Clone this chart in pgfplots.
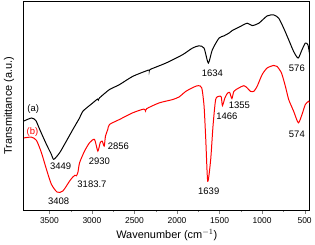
\documentclass[border=0pt]{standalone}
\usepackage{fontspec}
\setmainfont{Liberation Sans}
\usepackage{pgfplots}
\pgfplotsset{compat=1.18}
\begin{document}
\begin{tikzpicture}
\begin{axis}[
  scale only axis, width=287pt, height=210pt,
  x dir=reverse, xmin=440, xmax=3800, ymin=0, ymax=210,
  xtick={500,1000,...,3500}, minor x tick num=1,
  ytick=\empty,
  tick align=outside, xtick pos=bottom,
  major tick length=3.5pt, minor tick length=2pt,
  tick label style={font=\fontsize{8.5}{10}\selectfont},
  /pgf/number format/assume math mode=true,
  /pgf/number format/set thousands separator={},
  xlabel={Wavenumber (cm$^{-1}$)}, ylabel={Transmittance (a.u.)},
  label style={font=\fontsize{11}{13}\selectfont},
  xlabel style={at={(axis description cs:0.5,-0.12)}, anchor=center},
  ylabel style={at={(axis description cs:-0.052,0.5)}, anchor=center},
  axis line style={line width=0.8pt},
]
% (a) black
\addplot[black, line width=1pt, smooth, tension=0.4] coordinates {
(3800,89.5) (3711,92.5) (3660,90) (3614,81) (3535,66) (3477,56) (3449,51)
(3379,57.7) (3301,69.3) (3224,81) (3145,92.7) (3107,99.3) (3000,107) (2935,111.5) (2925,110.5) (2911,112.7)
(2795,121) (2677,126) (2521,134.3) (2340,140.5) (2326,140) (2310,141.5) (2130,147.7) (1936,156) (1819,162.7)
(1741,165) (1682,162.7) (1632,147.7) (1585,161) (1507,172.7) (1448,175) (1390,177.7)
(1351,180.3) (1272,183.7) (1175,187.7) (1117,185.3) (1038,187.7) (941,195) (863,196)
(804,192.7) (746,182.7) (687,171) (629,159.3) (576,152.7) (531,161) (492,167.7) (461,166) (440,156)
};
% (b) red
\addplot[red, line width=1pt, smooth, tension=0.4] coordinates {
(3800,72.5) (3711,73.3) (3652,70) (3594,57.7) (3535,41) (3477,26) (3408,18)
(3341,19.3) (3262,29.3) (3224,33.3) (3200,35) (3183,34.5) (3165,38) (3145,47.7) (3087,59.3)
(3028,67.7) (2970,71) (2931,59.3) (2903,67.7) (2880,69.3) (2856,64.3) (2841,74.3)
(2814,81) (2794,86) (2677,91) (2521,97.7) (2390,101.5) (2370,99.5) (2355,102) (2209,107.7) (2053,111)
(1975,113.7) (1896,119.3) (1799,123.7) (1749,125) (1709,122.7) (1682,104.3) (1662,71)
(1639,29) (1604,51) (1577,84.3) (1546,111) (1507,114.3) (1480,113.7) (1466,105)
(1437,112.7) (1410,117) (1382,118.3) (1355,112) (1331,119.3) (1273,122.7) (1214,125)
(1175,122.7) (1136,119.3) (1097,119.3) (1058,124.3) (1000,136) (941,142.7) (863,145.3)
(824,144.3) (772,137.7) (726,124.3) (687,111) (629,99.3) (574,87.7) (531,96)
(492,106) (453,109.3) (440,107.7)
};
\begin{scope}[font=\fontsize{9.5}{11}\selectfont]
\node[black] at (axis cs:3690,101) {(a)};
\node[red] at (axis cs:3700,78.5) {(b)};
\node at (axis cs:3368,44) {3449};
\node at (axis cs:3391,9) {3408};
\node at (axis cs:3000,26) {3183.7};
\node at (axis cs:2912,48.7) {2930};
\node at (axis cs:2690,64.3) {2856};
\node at (axis cs:1585,137.7) {1634};
\node at (axis cs:591,142.7) {576};
\node at (axis cs:1627,19.3) {1639};
\node at (axis cs:1413,94.7) {1466};
\node at (axis cs:1268,105) {1355};
\node at (axis cs:591,76.3) {574};
\end{scope}
\end{axis}
\path (current axis.south west) +(-24pt,-32.3pt) (current axis.north east) +(4pt,1pt);
\end{tikzpicture}
\end{document}
